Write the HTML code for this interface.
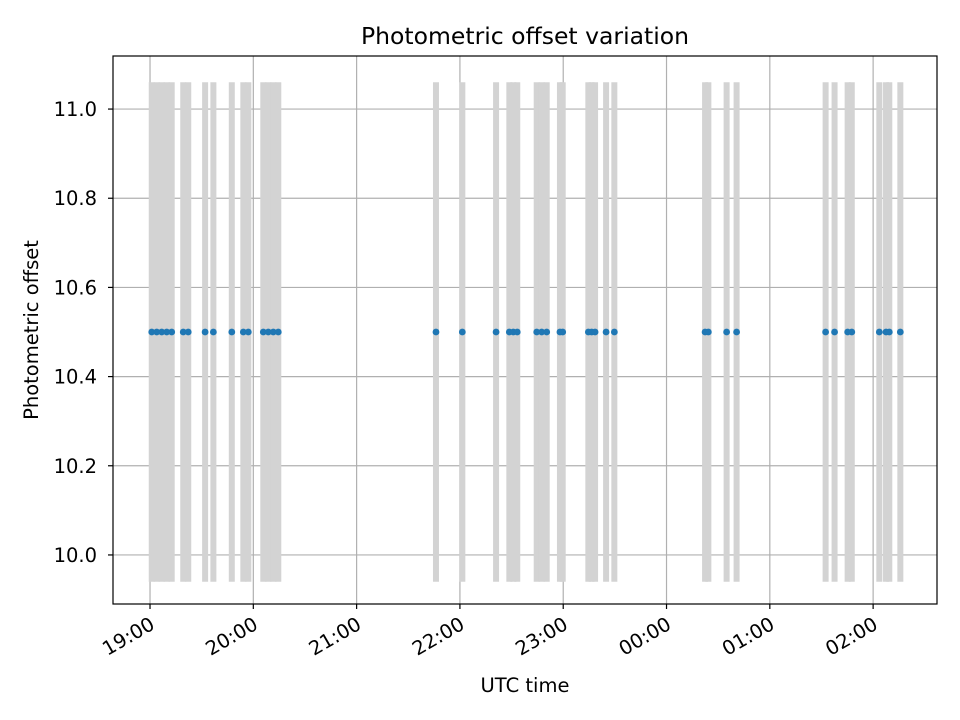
<!DOCTYPE html>
<html><head><meta charset="utf-8"><style>
body{margin:0;background:#fff;font-family:"Liberation Sans","DejaVu Sans",sans-serif}
svg text{font-family:"DejaVu Sans","Liberation Sans",sans-serif}
</style></head><body>
<svg id="chart" width="960" height="720" xmlns="http://www.w3.org/2000/svg" style="position:absolute;left:0;top:0"></svg>
<script>
// minutes after 19:00 UTC
const times=[1,3.9,6.8,9.7,12.6,19.3,22.2,32,36.8,47.5,54.2,57.1,65.8,68.7,71.6,74.5,166.1,181.4,201,208.7,211,213.3,224.6,227.5,230.4,238.1,239.7,254.6,256.5,258.5,264.9,269.7,322.4,324.3,334.9,340.7,392.4,397.6,405.2,407.6,423.6,427.5,429.4,435.8];
const offsets=times.map(()=>10.5);
const errors=times.map(()=>0.56);
const yTicks=[10.0,10.2,10.4,10.6,10.8,11.0];
const xTickLabels=["19:00","20:00","21:00","22:00","23:00","00:00","01:00","02:00"];
const xTickMinutes=[0,60,120,180,240,300,360,420];

const L=113,R=937,T=56,B=604;
const xMin=-21.5,xMax=457.1,yMin=9.890,yMax=11.119;
const X=m=>L+(m-xMin)/(xMax-xMin)*(R-L);
const Y=v=>B-(v-yMin)/(yMax-yMin)*(B-T);
const svg=document.getElementById('chart');
const NS='http://www.w3.org/2000/svg';
function mk(tag,attrs,parent){const e=document.createElementNS(NS,tag);for(const k in attrs)e.setAttribute(k,attrs[k]);(parent||svg).appendChild(e);return e;}

const grid=mk('g',{});


xTickMinutes.forEach(m=>mk('line',{x1:X(m),x2:X(m),y1:T,y2:B,stroke:'#b0b0b0','stroke-width':1.2},grid));
yTicks.forEach(v=>mk('line',{x1:L,x2:R,y1:Y(v),y2:Y(v),stroke:'#b0b0b0','stroke-width':1.2},grid));

const eb=mk('g',{});


times.forEach((t,i)=>{
 const l=mk('line',{x1:X(t),x2:X(t),y1:Y(offsets[i]+errors[i]),y2:Y(offsets[i]-errors[i]),stroke:'#d3d3d3','stroke-width':6},eb);
 
 
});
const pts=mk('g',{});


times.forEach((t,i)=>{
 const c=mk('circle',{cx:X(t),cy:Y(offsets[i]),r:3.4,fill:'#1f77b4'},pts);
 
 
});

const frame=mk('rect',{x:L,y:T,width:R-L,height:B-T,fill:'none',stroke:'#000','stroke-width':1.2});



const yax=mk('g',{});


yTicks.forEach(v=>{
 mk('line',{x1:L-5,x2:L,y1:Y(v),y2:Y(v),stroke:'#000','stroke-width':1.2},yax);
 const tx=mk('text',{x:L-16,y:Y(v)+7,'text-anchor':'end','font-size':19.5},yax);
 tx.textContent=v.toFixed(1);
 
 
});
const xax=mk('g',{});


xTickMinutes.forEach((m,i)=>{
 const x=X(m);
 mk('line',{x1:x,x2:x,y1:B,y2:B+5,stroke:'#000','stroke-width':1.2},xax);
 const px=x+6,py=B+24;
 const tx=mk('text',{x:px,y:py,'text-anchor':'end','font-size':19.5,transform:`rotate(-30 ${px} ${py})`},xax);
 tx.textContent=xTickLabels[i];
 
 
});
</script>
<svg style="position:absolute;left:0;top:0" width="960" height="720" xmlns="http://www.w3.org/2000/svg">
<text x="525" y="44" text-anchor="middle" font-size="23.5">Photometric offset variation</text>
<text x="525" y="692" text-anchor="middle" font-size="19.5">UTC time</text>
<text x="38" y="330" text-anchor="middle" font-size="19.5" transform="rotate(-90 38 330)">Photometric offset</text>
</svg>
</body></html>
